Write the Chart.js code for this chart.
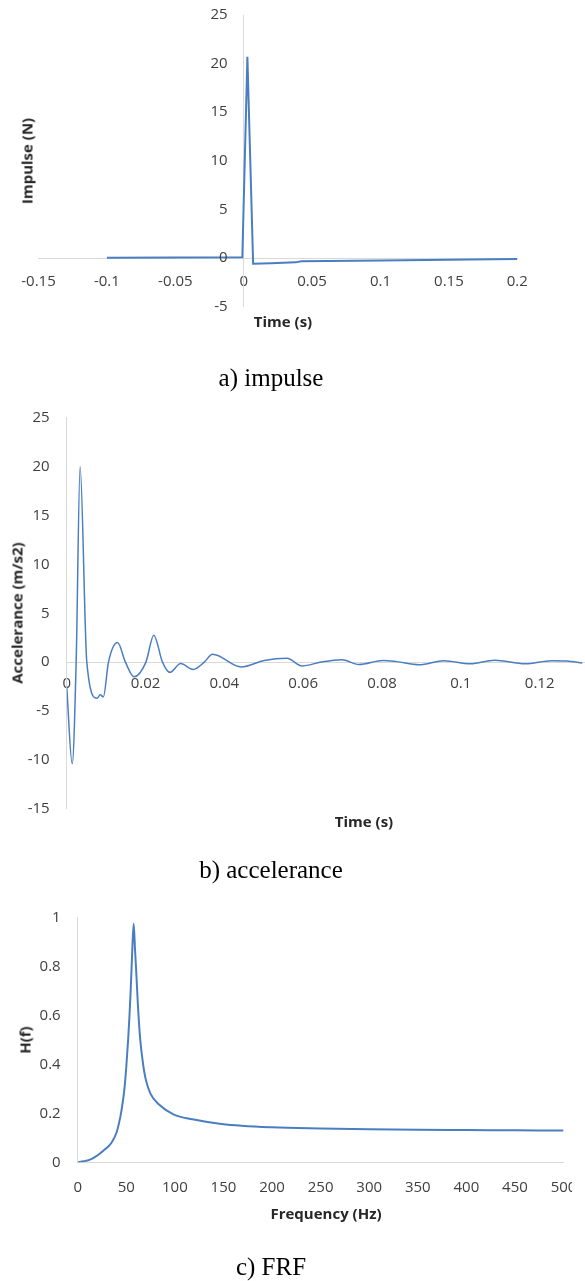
<!DOCTYPE html>
<html>
<head>
<meta charset="utf-8">
<script src="https://cdn.jsdelivr.net/npm/chart.js@4.4.1/dist/chart.umd.min.js"></script>
<style>
  body { margin: 0; background: #fff; }
  #page { position: relative; width: 585px; height: 1281px; overflow: hidden; background: #fff; }
  canvas { position: absolute; left: 0; }
  .title { position: absolute; font-family: "Open Sans"; font-weight: bold; font-size: 15px; color: #262626;
           white-space: nowrap; line-height: 1; transform: translate(-50%, -50%); }
  .vtitle { transform: translate(-50%, -50%) rotate(-90deg); }
  .caption { position: absolute; font-family: "Liberation Serif"; font-size: 25px; color: #000;
             white-space: nowrap; line-height: 1; transform: translate(-50%, -50%); }
</style>
</head>
<body>
<div id="page">
  <canvas id="impulseChart" width="585" height="340" style="top:0px"></canvas>
  <div class="title vtitle" style="left:27px; top:161px">Impulse (N)</div>
  <div class="title" style="left:283px; top:321px">Time (s)</div>
  <div class="caption" style="left:271px; top:377px">a) impulse</div>

  <canvas id="accelChart" width="585" height="450" style="top:390px"></canvas>
  <div class="title vtitle" style="left:17px; top:613px">Accelerance (m/s2)</div>
  <div class="title" style="left:364px; top:821px">Time (s)</div>
  <div class="caption" style="left:271px; top:869px">b) accelerance</div>

  <canvas id="frfChart" width="572" height="320" style="top:890px"></canvas>
  <div class="title vtitle" style="left:25px; top:1040px">H(f)</div>
  <div class="title" style="left:326px; top:1213px">Frequency (Hz)</div>
  <div class="caption" style="left:271px; top:1266px">c) FRF</div>
</div>

<script>
// a) impulse
const impulseTime  = [-0.1, -0.05, -0.001, 0.0027, 0.0069, 0.02, 0.038, 0.042, 0.1, 0.15, 0.2];
const impulseForce = [0.02, 0.05, 0.08, 20.7, -0.6, -0.55, -0.45, -0.33, -0.25, -0.17, -0.1];
const impulseXTicks  = [-0.15, -0.1, -0.05, 0, 0.05, 0.1, 0.15, 0.2];
const impulseXLabels = ['-0.15', '-0.1', '-0.05', '0', '0.05', '0.1', '0.15', '0.2'];
const impulseYTicks  = [-5, 0, 5, 10, 15, 20, 25];
const impulseYLabels = ['-5', '0', '5', '10', '15', '20', '25'];

// b) accelerance
const accelTime = [0, 0.0014, 0.0024, 0.0034, 0.0051, 0.0077, 0.0085, 0.0093, 0.0106, 0.0129,
                   0.0149, 0.0171, 0.0201, 0.0221, 0.0243, 0.0262, 0.0289, 0.0321, 0.0349, 0.0370,
                   0.0443, 0.0501, 0.0559, 0.0597, 0.0645, 0.0698, 0.0741, 0.0803, 0.0837, 0.0894,
                   0.0957, 0.1024, 0.1086, 0.1163, 0.1230, 0.1269, 0.1308];
const accelValue = [-2.5, -10.4, 0, 20.0, 0, -3.7, -3.35, -3.55, 0, 2.0,
                    0, -1.5, 0, 2.75, 0, -1.05, -0.15, -0.75, 0, 0.8,
                    -0.5, 0.17, 0.4, -0.4, 0.0, 0.24, -0.24, 0.17, 0.05, -0.27,
                    0.15, -0.17, 0.2, -0.17, 0.15, 0.12, -0.1];
const accelXTicks  = [0, 0.02, 0.04, 0.06, 0.08, 0.1, 0.12];
const accelXLabels = ['0', '0.02', '0.04', '0.06', '0.08', '0.1', '0.12'];
const accelYTicks  = [-15, -10, -5, 0, 5, 10, 15, 20, 25];
const accelYLabels = ['-15', '-10', '-5', '0', '5', '10', '15', '20', '25'];

// c) FRF
const frfFreq = [0, 6, 12, 18, 23.5, 29, 34.8, 40, 42.4, 45, 48.1, 50, 51.9, 53.3, 54.5, 56, 57.6, 59, 60.5, 62,
                 64.4, 67, 70, 75, 84, 99, 118, 148, 200, 250, 300, 350, 400, 450, 500];
const frfValue = [0, 0.004, 0.01, 0.022, 0.038, 0.056, 0.08, 0.122, 0.158, 0.21, 0.3, 0.39, 0.5, 0.6, 0.7, 0.85, 0.975, 0.87, 0.76, 0.64,
                  0.5, 0.41, 0.34, 0.28, 0.235, 0.195, 0.176, 0.157, 0.143, 0.138, 0.135, 0.133, 0.132, 0.131, 0.13];
const frfXTicks  = [0, 50, 100, 150, 200, 250, 300, 350, 400, 450, 500];
const frfXLabels = ['0', '50', '100', '150', '200', '250', '300', '350', '400', '450', '500'];
const frfYTicks  = [0, 0.2, 0.4, 0.6, 0.8, 1];
const frfYLabels = ['0', '0.2', '0.4', '0.6', '0.8', '1'];

const lineColor = '#4A7EC2';
const axisColor = '#D9D9D9';
const tickFont = { family: 'Open Sans', size: 15 };
const tickColor = '#404040';

// axis with fixed ticks; "size" is the room it gets in the layout
function makeAxis(min, max, values, labels, position, padding, horizontal, size) {
    return {
        type: 'linear',
        position: position,
        min: min,
        max: max,
        grid: { display: false, drawTicks: false },
        border: { display: true, color: axisColor, width: 1 },
        ticks: {
            autoSkip: false,
            maxRotation: 0,
            padding: padding,
            font: tickFont,
            color: tickColor,
            callback: (v, i) => labels[i]
        },
        afterBuildTicks: scale => { scale.ticks = values.map(v => ({ value: v })); },
        afterFit: scale => {
            if (horizontal) scale.height = size; else scale.width = size;
            scale.paddingLeft = scale.paddingRight = scale.paddingTop = scale.paddingBottom = 0;
        }
    };
}

// y labels of the impulse chart sit left of the axis that crosses at x = 0
const zeroAxisLabels = {
    id: 'zeroAxisLabels',
    afterDraw(chart) {
        const xs = chart.scales.x;
        const ys = chart.scales.y;
        const c = chart.ctx;
        const x0 = xs.getPixelForValue(0) - 16;
        c.save();
        c.font = '15px "Open Sans"';
        c.fillStyle = tickColor;
        c.textAlign = 'right';
        c.textBaseline = 'middle';
        impulseYTicks.forEach((v, i) => c.fillText(impulseYLabels[i], x0, ys.getPixelForValue(v)));
        c.restore();
    }
};

function toPoints(xs, ys) {
    return xs.map((x, i) => ({ x: x, y: ys[i] }));
}

function drawChart(id, points, width, interp, padding, scales, plugins) {
    const ctx = document.getElementById(id).getContext('2d');
    return new Chart(ctx, {
        type: 'line',
        data: {
            datasets: [{
                data: points,
                borderColor: lineColor,
                borderWidth: width,
                pointRadius: 0,
                fill: false,
                tension: interp ? 0.4 : 0,
                cubicInterpolationMode: interp ? 'monotone' : 'default'
            }]
        },
        options: {
            responsive: false,
            animation: false,
            layout: { padding: padding },
            plugins: { legend: { display: false }, tooltip: { enabled: false } },
            scales: scales
        },
        plugins: plugins || []
    });
}

const impulseY = makeAxis(-5, 25, impulseYTicks, impulseYLabels, { x: 0 }, 0, false, 0);
impulseY.ticks.display = false;

drawChart('impulseChart', toPoints(impulseTime, impulseForce), 2, false,
    { left: 38.5, right: 67.7, top: 15, bottom: 33.4 },
    {
        x: makeAxis(-0.15, 0.2, impulseXTicks, impulseXLabels, { y: 0 }, 14.7, true, 0),
        y: impulseY
    },
    [zeroAxisLabels]);

drawChart('accelChart', toPoints(accelTime, accelValue), 1.5, true,
    { left: 0, right: 0, top: 27.8, bottom: 31.3 },
    {
        x: makeAxis(0, 0.1315, accelXTicks, accelXLabels, { y: 0 }, 12.3, true, 0),
        y: makeAxis(-15, 25, accelYTicks, accelYLabels, 'left', 17, false, 66.7)
    });

// canvas is a little narrower than the page so the last "500" is cut like in the source
drawChart('frfChart', toPoints(frfFreq, frfValue), 2, true,
    { left: 0, right: 8.5, top: 27.7, bottom: 0 },
    {
        x: makeAxis(0, 500, frfXTicks, frfXLabels, 'bottom', 16, true, 47.7),
        y: makeAxis(0, 1, frfYTicks, frfYLabels, 'left', 17, false, 77.7)
    });
</script>
</body>
</html>
